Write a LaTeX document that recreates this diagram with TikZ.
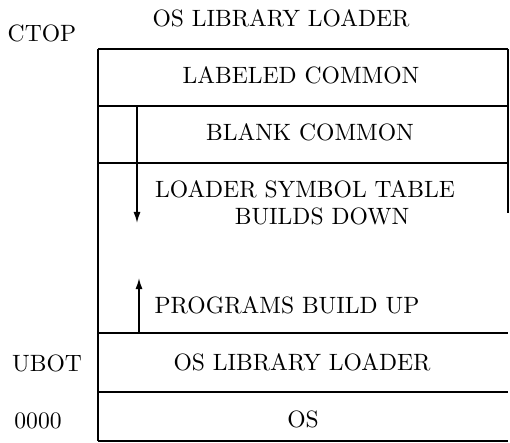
\documentclass[tikz,border=0pt]{standalone}
\usetikzlibrary{arrows.meta}
\newcommand{\bigtxt}[1]{\scalebox{2.36}{\fontsize{10}{12}\selectfont #1}}
\begin{document}
\begin{tikzpicture}[x=1pt,y=-1pt,
  lbl/.style={inner sep=0pt, anchor=base},
  rowline/.style={line width=1.4pt},
  edge/.style={line width=2.2pt},
  growarrow/.style={line width=1.5pt, -{Latex[length=11pt,width=7pt]}}]
\useasboundingbox (0,0) rectangle (510,443);
% frame coordinates
\coordinate (tl) at (98,49);
\coordinate (tr) at (508,49);
\coordinate (bl) at (98,441);
\coordinate (br) at (508,441);
\coordinate (l1) at (98,106);  \coordinate (r1) at (508,106);
\coordinate (l2) at (98,163);  \coordinate (r2) at (508,163);
\coordinate (l3) at (98,333);  \coordinate (r3) at (508,333);
\coordinate (l4) at (98,392);  \coordinate (r4) at (508,392);
\coordinate (rend) at (508,213);
% frame
\draw[edge] (tl) -- (bl);
\draw[rowline] (tl) -- (tr);
\draw[rowline] (tr) -- (rend);
\draw[rowline] (l1) -- (r1);
\draw[rowline] (l2) -- (r2);
\draw[rowline] (l3) -- (r3);
\draw[rowline] (l4) -- (r4);
\draw[rowline] (bl) -- (br);
% arrows
\coordinate (dstart) at (137,106);
\coordinate (dend) at (137,223);
\coordinate (ustart) at (139,333);
\coordinate (uend) at (139,278);
\draw[growarrow] (dstart) -- (dend);
\draw[growarrow] (ustart) -- (uend);
% texts
\node[lbl] (title) at (281,27) {\bigtxt{OS LIBRARY LOADER}};
\node[lbl] (ctop) at (42,42) {\bigtxt{CTOP}};
\node[lbl] (labeled) at (301,84) {\bigtxt{LABELED COMMON}};
\node[lbl] (blank) at (310,141) {\bigtxt{BLANK COMMON}};
\node[lbl] (lst) at (305,198) {\bigtxt{LOADER SYMBOL TABLE}};
\node[lbl] (bd) at (322,225) {\bigtxt{BUILDS DOWN}};
\node[lbl] (pbu) at (287,313) {\bigtxt{PROGRAMS BUILD UP}};
\node[lbl] (ubot) at (47,371) {\bigtxt{UBOT}};
\node[lbl] (osll) at (302,370) {\bigtxt{OS LIBRARY LOADER}};
\node[lbl] (zero) at (38,428) {\bigtxt{0000}};
\node[lbl] (os) at (303,427) {\bigtxt{OS}};
\end{tikzpicture}
\end{document}
